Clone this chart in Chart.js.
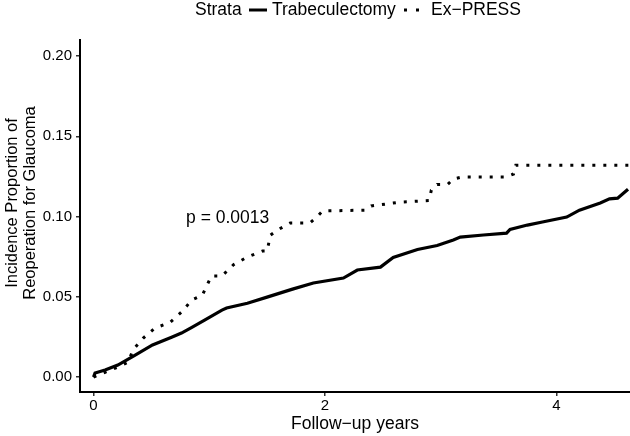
<!DOCTYPE html>
<html>
<head>
<meta charset="utf-8">
<script src="https://cdn.jsdelivr.net/npm/chart.js@4"></script>
<style>
  html, body { margin: 0; padding: 0; background: #fff; }
</style>
</head>
<body>
<canvas id="kmChart" width="630" height="436"></canvas>
<script>
const FONT = '"Liberation Sans", Arial, Helvetica, sans-serif';

const strata = ['Trabeculectomy', 'Ex\u2212PRESS'];
const legendTitle = 'Strata';
const pValueLabel = 'p = 0.0013';
const xTitle = 'Follow\u2212up years';
const yTitle = ['Incidence Proportion of', 'Reoperation for Glaucoma'];
const xTicks = [0, 2, 4];
const yTicks = [0, 0.05, 0.10, 0.15, 0.20];

// cumulative incidence curves, vertices (years, proportion)
const trabYears = [0, 0.013, 0.10, 0.21, 0.36, 0.51, 0.68, 0.76, 0.85, 0.96, 1.11, 1.15, 1.33, 1.50,
    1.72, 1.90, 2.16, 2.28, 2.48, 2.59, 2.80, 2.97, 3.11, 3.17, 3.37, 3.57, 3.60, 3.75, 3.88, 4.09,
    4.20, 4.38, 4.46, 4.53, 4.62];
const trabIncidence = [0, 0.0025, 0.0044, 0.0075, 0.0137, 0.020, 0.025, 0.0274, 0.031, 0.0355, 0.0417, 0.043, 0.046, 0.0498,
    0.0548, 0.0586, 0.0617, 0.0667, 0.0685, 0.0745, 0.0795, 0.082, 0.0854, 0.0872, 0.0885, 0.0897, 0.092, 0.0947, 0.0966, 0.0997,
    0.104, 0.1085, 0.111, 0.1115, 0.117];

const expressYears = [0, 0.10, 0.21, 0.30, 0.34, 0.43, 0.53, 0.66, 0.76, 0.85, 0.94, 0.99, 1.02, 1.11, 1.21, 1.33,
    1.46, 1.50, 1.51, 1.53, 1.59, 1.70, 1.87, 1.93, 1.98, 2.35, 2.40, 2.65, 2.90, 2.92, 2.97, 3.06, 3.11, 3.18,
    3.56, 3.63, 3.65, 4.64];
const expressIncidence = [0, 0.003, 0.0062, 0.0093, 0.0168, 0.0243, 0.0305, 0.034, 0.0405, 0.048, 0.051, 0.0586, 0.063, 0.063, 0.070, 0.0748,
    0.0785, 0.0785, 0.082, 0.0885, 0.0916, 0.096, 0.096, 0.0997, 0.1035, 0.104, 0.1066, 0.109, 0.110, 0.1165, 0.120, 0.120, 0.1234, 0.1246,
    0.1246, 0.1265, 0.132, 0.132];

const annotatePlugin = {
    id: 'annotate',
    afterDraw(chart) {
        const ctx = chart.ctx;
        const xs = chart.scales.x;
        const ys = chart.scales.y;
        ctx.save();
        ctx.fillStyle = '#000';
        ctx.strokeStyle = '#000';
        ctx.textBaseline = 'middle';
        ctx.font = '17.5px ' + FONT;

        // p value
        ctx.textAlign = 'left';
        ctx.fillText(pValueLabel, xs.getPixelForValue(0.80), ys.getPixelForValue(0.099));

        // legend row
        const ly = 10;
        ctx.fillText(legendTitle, 195, ly);
        ctx.lineWidth = 3;
        ctx.beginPath();
        ctx.moveTo(249, ly);
        ctx.lineTo(267, ly);
        ctx.stroke();
        ctx.fillText(strata[0], 272, ly);
        ctx.setLineDash([3, 9]);
        ctx.beginPath();
        ctx.moveTo(404, ly);
        ctx.lineTo(420, ly);
        ctx.stroke();
        ctx.setLineDash([]);
        ctx.fillText(strata[1], 431, ly);

        // y axis title, two lines
        ctx.font = '16.5px ' + FONT;
        ctx.translate(0, 203);
        ctx.rotate(-Math.PI / 2);
        ctx.textAlign = 'center';
        ctx.fillText(yTitle[0], 0, 12);
        ctx.fillText(yTitle[1], 0, 30);
        ctx.restore();
    }
};

const ctx = document.getElementById('kmChart').getContext('2d');
new Chart(ctx, {
    type: 'line',
    data: {
        datasets: [{
            label: strata[0],
            data: trabYears.map((t, i) => ({ x: t, y: trabIncidence[i] })),
            borderColor: '#000',
            borderWidth: 3.2,
            borderJoinStyle: 'miter',
            pointRadius: 0,
            fill: false
        }, {
            label: strata[1],
            data: expressYears.map((t, i) => ({ x: t, y: expressIncidence[i] })),
            borderColor: '#000',
            borderWidth: 3,
            borderDash: [3, 8],
            borderCapStyle: 'butt',
            pointRadius: 0,
            fill: false
        }]
    },
    options: {
        responsive: false,
        animation: false,
        devicePixelRatio: 1,
        layout: { padding: { top: 40, left: 0, right: 0, bottom: 0 } },
        plugins: {
            legend: { display: false },
            tooltip: { enabled: false }
        },
        scales: {
            x: {
                type: 'linear',
                min: -0.117,
                max: 4.637,
                afterBuildTicks: s => { s.ticks = xTicks.map(v => ({ value: v })); },
                afterFit: s => { s.height = 44; },
                ticks: {
                    font: { size: 15, family: FONT },
                    color: '#000',
                    padding: 1,
                    maxRotation: 0
                },
                grid: { drawOnChartArea: false, drawTicks: true, tickLength: 4, color: '#333', lineWidth: 1.5 },
                border: { display: true, color: '#000', width: 2 },
                title: {
                    display: true,
                    text: xTitle,
                    color: '#000',
                    font: { size: 17.5, family: FONT },
                    padding: { top: 0, bottom: 1 }
                }
            },
            y: {
                type: 'linear',
                min: -0.0093,
                max: 0.21,
                afterBuildTicks: s => { s.ticks = yTicks.map(v => ({ value: v })); },
                afterFit: s => { s.width = 80; },
                ticks: {
                    font: { size: 15, family: FONT },
                    color: '#000',
                    padding: 4,
                    callback: v => v.toFixed(2)
                },
                grid: { drawOnChartArea: false, drawTicks: true, tickLength: 4, color: '#333', lineWidth: 1.5 },
                border: { display: true, color: '#000', width: 2 }
            }
        }
    },
    plugins: [annotatePlugin]
});
</script>
</body>
</html>
